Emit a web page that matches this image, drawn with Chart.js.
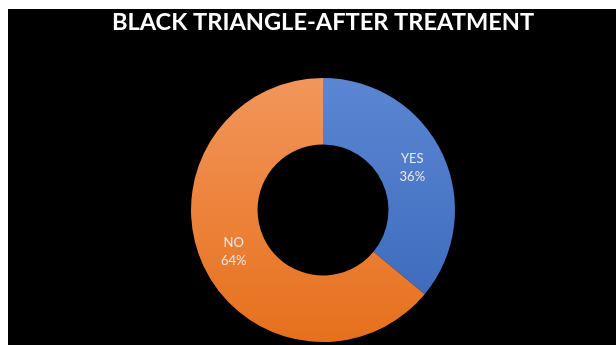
<!DOCTYPE html>
<html>
<head>
<meta charset="utf-8">
<script src="https://cdn.jsdelivr.net/npm/chart.js@4.4.1/dist/chart.umd.min.js"></script>
<style>
  html, body { margin: 0; padding: 0; background: #ffffff; width: 616px; height: 345px; overflow: hidden; }
  #bg { position: absolute; left: 8px; top: 9px; right: 0; bottom: 0; background: #000000; }
  #wrap { position: absolute; left: 0; top: 0; width: 616px; height: 345px; }
</style>
</head>
<body>
<div id="bg"></div>
<div id="wrap"><canvas id="c" width="616" height="345"></canvas></div>
<script>
const titleText = 'BLACK TRIANGLE-AFTER TREATMENT';
const categories = ['YES', 'NO'];
const values = [36, 64];
const topColors = ['#5a86d2', '#f2965c'];
const bottomColors = ['#3a66bb', '#e6701c'];

const labelPlugin = {
  id: 'sliceLabels',
  afterDatasetsDraw(chart) {
    const ctx = chart.ctx;
    const meta = chart.getDatasetMeta(0);
    const total = values.reduce((a, b) => a + b, 0);
    ctx.save();
    ctx.fillStyle = '#e8e8ee';
    ctx.font = '13px Lato, "Open Sans", sans-serif';
    ctx.textAlign = 'center';
    ctx.textBaseline = 'middle';
    meta.data.forEach((arc, i) => {
      const p = arc.tooltipPosition();
      const pct = Math.round(values[i] / total * 100) + '%';
      ctx.fillText(categories[i], p.x, p.y - 9);
      ctx.fillText(pct, p.x, p.y + 9);
    });
    ctx.restore();
  }
};

function grad(ctx, i) {
  const chart = ctx.chart;
  const area = chart.chartArea;
  if (!area) return topColors[i];
  const g = chart.ctx.createLinearGradient(0, area.top, 0, area.bottom);
  g.addColorStop(0, topColors[i]);
  g.addColorStop(1, bottomColors[i]);
  return g;
}

new Chart(document.getElementById('c'), {
  type: 'doughnut',
  data: {
    labels: categories,
    datasets: [{
      data: values,
      backgroundColor: (ctx) => grad(ctx, ctx.dataIndex),
      borderWidth: 0,
      hoverOffset: 0
    }]
  },
  options: {
    responsive: false,
    animation: false,
    cutout: '49.6%',
    layout: { padding: { left: 30, right: 0, top: 0, bottom: 3 } },
    plugins: {
      legend: { display: false },
      tooltip: { enabled: false },
      title: {
        display: true,
        text: titleText,
        color: '#ffffff',
        font: { family: 'Lato, "Open Sans", sans-serif', size: 23.6, weight: 'bold', lineHeight: 1.2 },
        padding: { top: 8.5, bottom: 41.2 }
      }
    }
  },
  plugins: [labelPlugin]
});
</script>
</body>
</html>
